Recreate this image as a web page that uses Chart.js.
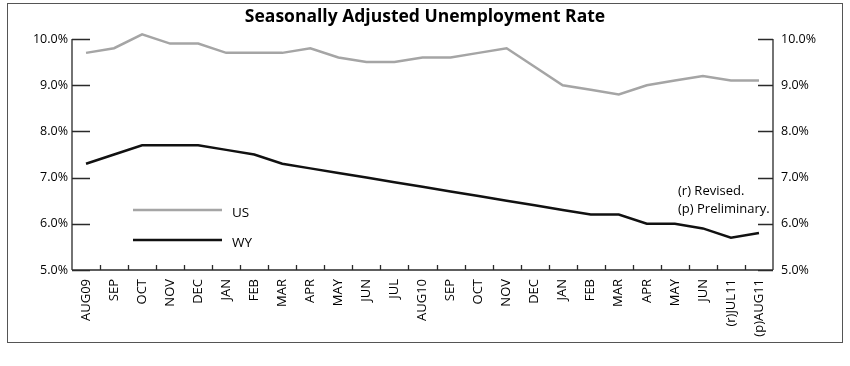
<!DOCTYPE html>
<html><head><meta charset="utf-8">
<script src="https://cdn.jsdelivr.net/npm/chart.js@4"></script>
<style>html,body{margin:0;padding:0;background:#fff;} canvas{display:block}</style>
</head><body>
<canvas id="c" width="850" height="366"></canvas>
<script>
const categories = ['AUG09','SEP','OCT','NOV','DEC','JAN','FEB','MAR','APR','MAY','JUN','JUL','AUG10','SEP','OCT','NOV','DEC','JAN','FEB','MAR','APR','MAY','JUN','(r)JUL11','(p)AUG11'];
const usRate = [9.7,9.8,10.1,9.9,9.9,9.7,9.7,9.7,9.8,9.6,9.5,9.5,9.6,9.6,9.7,9.8,9.4,9.0,8.9,8.8,9.0,9.1,9.2,9.1,9.1];
const wyRate = [7.3,7.5,7.7,7.7,7.7,7.6,7.5,7.3,7.2,7.1,7.0,6.9,6.8,6.7,6.6,6.5,6.4,6.3,6.2,6.2,6.0,6.0,5.9,5.7,5.8];
const yTickValues = [5,6,7,8,9,10];
const seriesNames = ['US','WY'];
const notes = ['(r) Revised.','(p) Preliminary.'];
const titleText = 'Seasonally Adjusted Unemployment Rate';

const FONT = "'Open Sans', 'DejaVu Sans', sans-serif";
const US_COLOR = '#a5a5a5';
const WY_COLOR = '#111111';
const AXIS_COLOR = '#2a2a2a';

const decor = {
  id: 'decor',
  beforeDraw(chart) {
    const ctx = chart.ctx;
    ctx.save();
    ctx.fillStyle = '#fff';
    ctx.fillRect(0, 0, chart.width, chart.height);
    ctx.strokeStyle = '#555';
    ctx.lineWidth = 1;
    ctx.strokeRect(7.5, 3.5, 835, 339);
    ctx.restore();
  },
  afterDatasetsDraw(chart) {
    const ctx = chart.ctx;
    const {left, right, bottom} = chart.chartArea;
    const y = chart.scales.y, x = chart.scales.x;
    const top = y.getPixelForValue(10);
    ctx.save();
    ctx.strokeStyle = AXIS_COLOR;
    ctx.lineWidth = 1.3;
    ctx.beginPath();
    ctx.moveTo(left, top); ctx.lineTo(left, bottom);
    ctx.moveTo(right, top); ctx.lineTo(right, bottom);
    ctx.moveTo(left, bottom); ctx.lineTo(right, bottom);
    yTickValues.forEach(v => {
      const py = Math.round(y.getPixelForValue(v)) + 0.5;
      ctx.moveTo(left, py); ctx.lineTo(left + 18, py);
      ctx.moveTo(right - 15, py); ctx.lineTo(right, py);
    });
    for (let i = 0; i < categories.length - 1; i++) {
      const px = Math.round((x.getPixelForValue(i) + x.getPixelForValue(i + 1)) / 2) + 0.5;
      ctx.moveTo(px, bottom); ctx.lineTo(px, bottom - 5);
    }
    ctx.stroke();

    // legend
    const ds = chart.data.datasets;
    const legendRows = [210, 240];
    ctx.font = '13.5px ' + FONT;
    ctx.textBaseline = 'middle';
    ctx.textAlign = 'left';
    ds.forEach((d, i) => {
      ctx.strokeStyle = d.borderColor;
      ctx.lineWidth = 2.5;
      ctx.beginPath();
      ctx.moveTo(133, legendRows[i]); ctx.lineTo(222, legendRows[i]);
      ctx.stroke();
      ctx.fillStyle = '#000';
      ctx.fillText(d.label, 232, legendRows[i] + 3);
    });
    // notes
    ctx.font = '13px ' + FONT;
    ctx.fillText(notes[0], 678, 191);
    ctx.fillText(notes[1], 678, 209);
    ctx.restore();
  }
};

const yTickCfg = (pad) => ({
  min: 5, max: 10,
  afterBuildTicks: s => { s.ticks = yTickValues.map(v => ({value: v})); },
  ticks: { callback: v => Number(v).toFixed(1) + '%', padding: pad, color: '#000', font: {family: FONT, size: 12.5} },
  grid: { display: false, drawTicks: false },
  border: { display: false }
});

new Chart(document.getElementById('c'), {
  type: 'line',
  data: {
    labels: categories,
    datasets: [
      { label: seriesNames[0], data: usRate, borderColor: US_COLOR, borderWidth: 2.5, pointRadius: 0, tension: 0, clip: false, yAxisID: 'y' },
      { label: seriesNames[1], data: wyRate, borderColor: WY_COLOR, borderWidth: 2.5, pointRadius: 0, tension: 0, clip: false, yAxisID: 'y' }
    ]
  },
  options: {
    responsive: false,
    animation: false,
    devicePixelRatio: 1,
    layout: { padding: 0 },
    plugins: {
      legend: { display: false },
      tooltip: { enabled: false },
      title: { display: true, text: titleText, color: '#000', font: {family: FONT, size: 17.5, weight: 'bold', lineHeight: 1.2}, padding: {top: 7, bottom: 11} }
    },
    scales: {
      x: {
        type: 'category', offset: true,
        grid: { display: false, drawTicks: false }, border: { display: false },
        ticks: { autoSkip: false, minRotation: 90, maxRotation: 90, padding: 9, color: '#000', font: {family: FONT, size: 13} },
        afterFit: s => { s.height = 96; }
      },
      y: Object.assign({ position: 'left', afterFit: s => { s.width = 72; } }, yTickCfg(4)),
      y2: Object.assign({ position: 'right', afterFit: s => { s.width = 77; } }, yTickCfg(8))
    }
  },
  plugins: [decor]
});
</script>
</body></html>
